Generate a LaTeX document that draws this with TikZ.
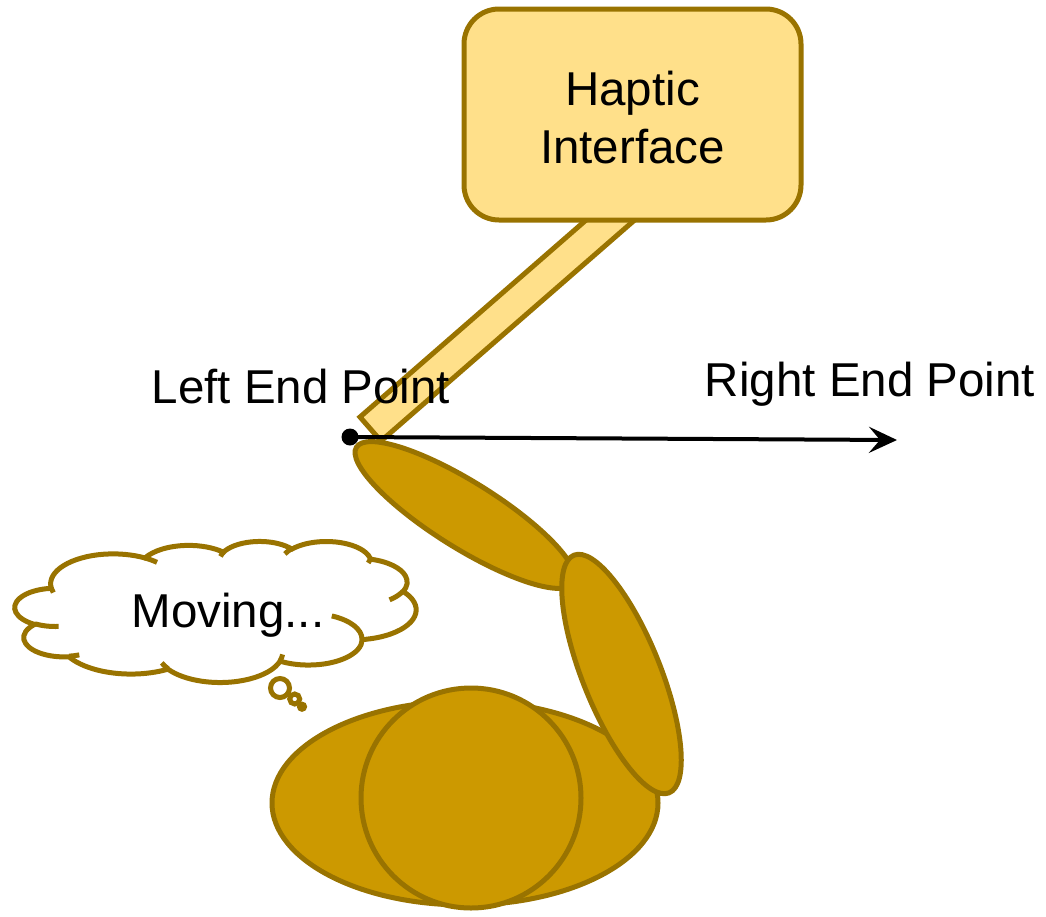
\documentclass[tikz,border=0pt]{standalone}
\usepackage{fontspec}
\setmainfont{Liberation Sans}
\usetikzlibrary{shapes.geometric,arrows.meta}

\definecolor{gold}{HTML}{CC9900}
\definecolor{goldline}{HTML}{997300}
\definecolor{paleyellow}{HTML}{FFE08A}

\tikzset{
  % one elliptic arc given as in DrawingML: radii, start angle and sweep (visual angles)
  cloud arc/.code n args={4}{%
    \pgfmathsetmacro\cldTs{atan2((#1)*sin(#3),(#2)*cos(#3))}%
    \pgfmathsetmacro\cldTs{\cldTs+360*round(((#3)-(\cldTs))/360)}%
    \pgfmathsetmacro\cldTe{atan2((#1)*sin((#3)+(#4)),(#2)*cos((#3)+(#4)))}%
    \pgfmathsetmacro\cldTe{\cldTe+360*round(((#3)+(#4)-(\cldTe))/360)}%
    \pgfmathsetmacro\cldD{\cldTe-\cldTs}%
    \pgfkeysalso{start angle=\cldTs, delta angle=\cldD, x radius=#1, y radius=#2}},
  outline/.style={draw=goldline, line width=5pt},
  hbox/.style={outline, fill=paleyellow, rounded corners=35pt, align=center,
    minimum width=337pt, minimum height=211pt, inner sep=0pt,
    text height=97pt, text depth=0pt},
  rodbar/.style={outline, fill=paleyellow, line join=miter},
  limb/.style={outline, fill=gold, ellipse, inner sep=0pt},
  bubble/.style={outline, fill=white},
  dot/.style={circle, fill=black, inner sep=0pt, minimum size=17pt},
  pointer/.style={draw=black, line width=4pt, -{Stealth[length=28pt,width=26pt,inset=11pt]}},
  lbl/.style={anchor=base, inner sep=0pt}
}

\begin{document}
\begin{tikzpicture}[x=1pt, y=-1pt, font=\fontsize{47.5}{58}\selectfont]
\useasboundingbox (0,0) rectangle (1046,916);

% rod of the haptic device
\coordinate (rodA) at (360,417);
\coordinate (rodB) at (381,441);
\coordinate (rodC) at (645,211);
\coordinate (rodD) at (624,187);
\draw[rodbar] (rodA) -- (rodB) -- (rodC) -- (rodD) -- cycle;

% device box
\node[hbox] (hi) at (632.5,114.5) {Haptic\\Interface};

% the user: upper arm, body, head, forearm
\node[limb, minimum width=256pt, minimum height=66pt, rotate=-32] (upper) at (465,515) {};
\node[limb, minimum width=386pt, minimum height=204pt] (body) at (465,803) {};
\node[outline, fill=gold, circle, inner sep=0pt, minimum size=220pt] (head) at (471,798) {};
\node[limb, minimum width=256pt, minimum height=78pt, rotate=-68.2] (fore) at (621.5,674) {};

% thought cloud
\begin{scope}[shift={(15pt,-541pt)}, x=0.92824pt, y=-0.32639pt]
  \draw[outline, fill=white] (39.00,143.70)
    arc[cloud arc={67.53}{91.90}{-190.4875}{123.7805}]
    arc[cloud arc={53.33}{72.67}{-144.1024}{89.9452}]
    arc[cloud arc={43.65}{59.45}{-145.8079}{99.7230}]
    arc[cloud arc={48.57}{65.95}{-130.9861}{117.2417}]
    arc[cloud arc={53.33}{72.73}{-78.7089}{109.0269}]
    arc[cloud arc={67.75}{92.20}{-46.2673}{130.2690}]
    arc[cloud arc={57.85}{78.67}{0.6250}{114.0333}]
    arc[cloud arc={67.52}{92.15}{22.4516}{115.1726}]
    arc[cloud arc={77.20}{105.43}{66.2426}{75.7110}]
    arc[cloud arc={43.60}{59.18}{-274.9421}{146.7356}]
    arc[cloud arc={43.45}{59.45}{-246.8285}{152.5189}]
    -- cycle;
  \draw[outline]
    (46.93,261.77) arc[cloud arc={43.45}{59.45}{86.7420}{26.4295}]
    (69.28,348.99) arc[cloud arc={43.60}{59.18}{73.6105}{11.4475}]
    (164.78,390.90) arc[cloud arc={67.52}{92.15}{137.6242}{14.0811}]
    (288.27,347.51) arc[cloud arc={67.52}{92.15}{6.4533}{15.9984}]
    (341.29,229.54) arc[cloud arc={57.85}{78.67}{-70.2924}{70.9174}]
    (417.98,153.54) arc[cloud arc={53.33}{72.73}{30.3180}{27.7515}]
    (383.24,54.26) arc[cloud arc={48.57}{65.95}{13.7443}{14.8589}]
    (290.78,39.52) arc[cloud arc={48.57}{65.95}{-149.1815}{18.1954}]
    (221.41,47.20) arc[cloud arc={43.65}{59.45}{-163.4943}{17.6864}]
    (140.00,51.92) arc[cloud arc={67.53}{91.90}{-66.7070}{12.3194}]
    (41.27,157.89) arc[cloud arc={67.53}{91.90}{157.6544}{11.8582}];
\end{scope}
\node[bubble, circle, inner sep=0pt, minimum size=19pt] (b1) at (280,688) {};
\node[bubble, circle, inner sep=0pt, minimum size=10pt] (b2) at (294.7,699) {};
\node[bubble, circle, inner sep=0pt, minimum size=5pt] (b3) at (302,706.7) {};
\node[lbl] (think) at (228,627) {Moving...};

% end point labels and the movement direction
\node[lbl] (leftlbl) at (301,403) {Left End Point};
\node[lbl] (rightlbl) at (870,396) {Right End Point};
\node[dot] (lp) at (350,437) {};
\coordinate (rp) at (897,440);
\draw[pointer] (lp.center) -- (rp);
\end{tikzpicture}
\end{document}
